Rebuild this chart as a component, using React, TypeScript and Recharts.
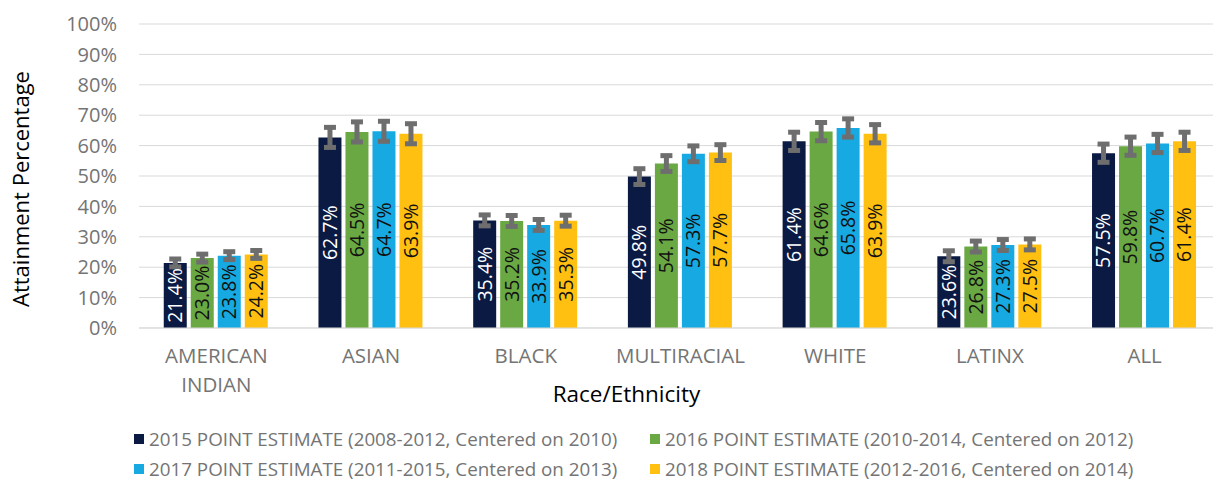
import { BarChart, Bar, XAxis, YAxis, CartesianGrid, Legend, LabelList, ErrorBar } from 'recharts'

const categories = ['AMERICAN INDIAN', 'ASIAN', 'BLACK', 'MULTIRACIAL', 'WHITE', 'LATINX', 'ALL']

const est2015 = [21.4, 62.7, 35.4, 49.8, 61.4, 23.6, 57.5]
const est2016 = [23.0, 64.5, 35.2, 54.1, 64.6, 26.8, 59.8]
const est2017 = [23.8, 64.7, 33.9, 57.3, 65.8, 27.3, 60.7]
const est2018 = [24.2, 63.9, 35.3, 57.7, 63.9, 27.5, 61.4]

// margin of error
const err2015 = [1.3, 3.3, 1.8, 2.6, 3.0, 1.8, 3.0]
const err2016 = [1.3, 3.3, 1.8, 2.6, 3.0, 1.8, 3.0]
const err2017 = [1.3, 3.3, 1.8, 2.6, 3.0, 1.8, 3.0]
const err2018 = [1.3, 3.3, 1.8, 2.6, 3.0, 1.8, 3.0]

const yTicks = [0, 10, 20, 30, 40, 50, 60, 70, 80, 90, 100]

const seriesNames = [
  '2015 POINT ESTIMATE (2008-2012, Centered on 2010)',
  '2016 POINT ESTIMATE (2010-2014, Centered on 2012)',
  '2017 POINT ESTIMATE (2011-2015, Centered on 2013)',
  '2018 POINT ESTIMATE (2012-2016, Centered on 2014)',
]
const colors = ['#0b1a43', '#6aa843', '#17a9e1', '#ffc012']
const labelColors = ['#ffffff', '#111111', '#111111', '#111111']

const data = categories.map((name, i) => ({
  name,
  s0: est2015[i], e0: err2015[i],
  s1: est2016[i], e1: err2016[i],
  s2: est2017[i], e2: err2017[i],
  s3: est2018[i], e3: err2018[i],
}))

const FONT = '"Open Sans", sans-serif'

function CategoryTick({ x, y, payload }: any) {
  const lines = String(payload.value).split(' ')
  return (
    <g>
      {lines.map((l, i) => (
        <text key={i} x={x} y={y + 22 + i * 29} textAnchor="middle" dominantBaseline="middle"
          fill="#747474" fontSize={20.5} fontFamily={FONT}>{l}</text>
      ))}
    </g>
  )
}

function LegendBox({ payload }: any) {
  const items = payload && payload.length ? payload : []
  const pos = [[134, 17], [650, 17], [134, 47], [650, 47]]
  return (
    <div style={{ position: 'relative', width: 1213, height: 60, fontFamily: FONT }}>
      {items.map((it: any, i: number) => (
        <div key={i} style={{ position: 'absolute', left: pos[i][0], top: pos[i][1] - 12, height: 24, display: 'flex', alignItems: 'center', whiteSpace: 'nowrap' }}>
          <span style={{ width: 10, height: 10, background: it.color, display: 'inline-block', marginRight: 5 }} />
          <span style={{ fontSize: 18.8, color: '#747474' }}>{it.value}</span>
        </div>
      ))}
    </div>
  )
}

export default function App() {
  return (
    <div style={{ position: 'absolute', left: 0, top: 0, width: 1213, height: 482, overflow: 'hidden', background: '#fff' }}>
      <BarChart width={1222} height={482} data={data} margin={{ top: 24, right: 0, left: 0, bottom: 0 }}
        barCategoryGap="16%" barGap={4}>
        <CartesianGrid vertical={false} stroke="#d9d9d9" />
        <XAxis dataKey="name" height={94} tickLine={false} axisLine={{ stroke: '#d9d9d9' }} interval={0}
          tick={<CategoryTick />}
          label={{
            content: ({ viewBox }: any) => (
              <text x={viewBox.x + viewBox.width / 2 - 54} y={396} textAnchor="middle" dominantBaseline="middle"
                fontSize={22.5} fontFamily={FONT} fill="#000">Race/Ethnicity</text>
            ),
          }} />
        <YAxis width={139} domain={[0, 100]} ticks={yTicks} tickLine={false} axisLine={false} tickMargin={16}
          tickFormatter={(v: number) => `${v}%`}
          tick={{ fill: '#747474', fontSize: 20, fontFamily: FONT }}
          label={{
            content: () => (
              <text x={0} y={0} transform="translate(23,189) rotate(-90)" textAnchor="middle" dominantBaseline="middle"
                fontSize={22} fontFamily={FONT} fill="#000">Attainment Percentage</text>
            ),
          }} />
        <Legend verticalAlign="bottom" height={60} wrapperStyle={{ left: 0, width: 1213 }} content={<LegendBox />} />
        {[0, 1, 2, 3].map((k) => (
          <Bar key={k} dataKey={`s${k}`} name={seriesNames[k]} fill={colors[k]} isAnimationActive={false}>
            <ErrorBar dataKey={`e${k}`} width={6} strokeWidth={5} stroke="#6e6e6e" direction="y" isAnimationActive={false} />
            <LabelList dataKey={`s${k}`} position="center" angle={-90}
              formatter={(v: any) => `${Number(v).toFixed(1)}%`}
              fill={labelColors[k]} fontSize={19.5} fontFamily={FONT} />
          </Bar>
        ))}
      </BarChart>
    </div>
  )
}
